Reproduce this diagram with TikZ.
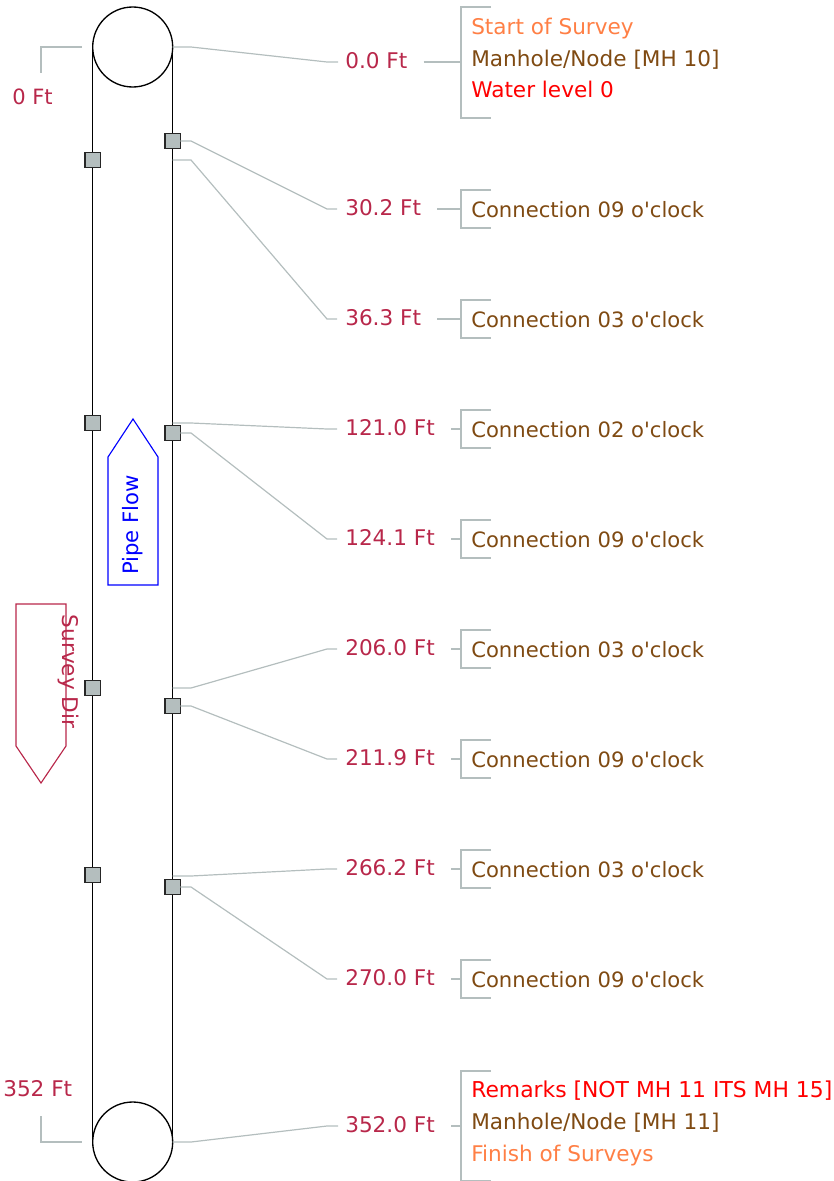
\documentclass[tikz,border=0pt]{standalone}
\usepackage{fontspec}
\setmainfont{DejaVu Sans}[Ligatures=TeXOff]
\definecolor{leader}{HTML}{B4BEBE}
\definecolor{dist}{HTML}{B8274A}
\definecolor{conn}{HTML}{7F4A12}
\definecolor{startc}{HTML}{FF7F45}
\newcommand{\row}[6]{% id, label, label baseline, bracket mid y, text, start point
  \node[distlabel] (d#1) at (337,#3) {#2};
  \coordinate (bm#1) at (461,#4);
  \coordinate (bt#1) at (491,#4-19);
  \coordinate (bb#1) at (491,#4+19);
  \node[conntext] (t#1) at (463,#4+8) {#5};
  \draw[leaderline] (#6) -- (#6 -| knee) -- ($(d#1.base west)+(-10,#4-#3)$) -- ($(d#1.base west)+(0,#4-#3)$);
  \draw[leaderline] ([xshift=6pt]d#1.east |- bm#1) -- (bm#1);
  \draw[leaderline] (bt#1) -| (bm#1) |- (bb#1);
}
\tikzset{
  x=0.75pt,y=-0.75pt,
  pipe/.style={draw=black,line width=1pt},
  manhole/.style={circle,draw=black,line width=1pt,minimum size=60pt,inner sep=0pt,outer sep=0pt},
  joint/.style={rectangle,draw=black!85,fill=leader,line width=1.05pt,minimum size=11.6pt,inner sep=0pt,outer sep=0pt},
  leaderline/.style={draw=leader,line width=0.9pt},
  distlabel/.style={anchor=base west,text=dist,font=\fontsize{16.2}{18}\selectfont,inner xsep=6pt,inner ysep=0pt},
  conntext/.style={anchor=base west,text=conn,font=\fontsize{15.85}{18}\selectfont,inner xsep=6pt,inner ysep=0pt},
  widetext/.style={conntext,font=\fontsize{16.2}{18}\selectfont},
  arrowbox/.style={line width=0.85pt},
}
\usetikzlibrary{calc}
\begin{document}
\begin{tikzpicture}
\useasboundingbox (0,0) rectangle (834,1181);
\clip (0,0) rectangle (834,1181);
\coordinate (knee) at (191,0);
% manholes and pipe
\node[manhole] (top) at (132.7,47) {};
\node[manhole] (bot) at (132.7,1142) {};
\draw[pipe] (top.west) -- (bot.west);
\draw[pipe] (top.east) -- (bot.east);
% joints
\node[joint] (l1) at (92.7,160) {};
\node[joint] (l2) at (92.7,423) {};
\node[joint] (l3) at (92.7,688) {};
\node[joint] (l4) at (92.7,875) {};
\node[joint] (r1) at (172.7,141) {};
\node[joint] (r2) at (172.7,433) {};
\node[joint] (r3) at (172.7,706) {};
\node[joint] (r4) at (172.7,887) {};
% points on the pipe
\coordinate (p0) at (172.7,47);
\coordinate (p2) at (172.7,160);
\coordinate (p3) at (172.7,423);
\coordinate (p5) at (172.7,688);
\coordinate (p7) at (172.7,876);
\coordinate (p9) at (172.7,1142);
% rows
\node[distlabel] (d0) at (337,68.5) {0.0 Ft};
\coordinate (bm0) at (461,62);
\coordinate (bt0) at (491,7);
\coordinate (bb0) at (491,118);
\draw[leaderline] (p0) -- (p0 -| knee) -- (327,62) -- (338,62);
\draw[leaderline] ([xshift=6pt]d0.east |- bm0) -- (bm0);
\draw[leaderline] (bt0) -| (bm0) |- (bb0);
\node[widetext,text=startc] (t0a) at (463,34.5) {Start of Survey};
\node[widetext] (t0b) at (463,66.5) {Manhole/Node [MH 10]};
\node[widetext,text=red] (t0c) at (463,97.5) {Water level 0};
\row{1}{30.2 Ft}{215}{209}{Connection 09 o'clock}{r1.east}
\row{2}{36.3 Ft}{325}{319}{Connection 03 o'clock}{p2}
\row{3}{121.0 Ft}{435}{429}{Connection 02 o'clock}{p3}
\row{4}{124.1 Ft}{545}{539}{Connection 09 o'clock}{r2.east}
\row{5}{206.0 Ft}{655}{649}{Connection 03 o'clock}{p5}
\row{6}{211.9 Ft}{765}{759}{Connection 09 o'clock}{r3.east}
\row{7}{266.2 Ft}{875}{869}{Connection 03 o'clock}{p7}
\row{8}{270.0 Ft}{985}{979}{Connection 09 o'clock}{r4.east}
\node[distlabel] (d9) at (337,1132) {352.0 Ft};
\coordinate (bm9) at (461,1126);
\coordinate (bt9) at (491,1071);
\coordinate (bb9) at (491,1181);
\draw[leaderline] (p9) -- (p9 -| knee) -- (327,1126) -- (338,1126);
\draw[leaderline] ([xshift=6pt]d9.east |- bm9) -- (bm9);
\draw[leaderline] (bt9) -| (bm9) |- (bb9);
\node[widetext,text=red,font=\fontsize{16.4}{18}\selectfont] (t9a) at (463,1097) {Remarks [NOT MH 11 ITS MH 15]};
\node[widetext] (t9b) at (463,1129) {Manhole/Node [MH 11]};
\node[widetext,text=startc] (t9c) at (463,1161) {Finish of Surveys};
% left depth labels
\node[distlabel,inner xsep=0pt,font=\fontsize{15.8}{18}\selectfont] (z0) at (12,104) {0 Ft};
\coordinate (z0c) at (41,47);
\coordinate (z0e) at (82,47);
\coordinate (z0s) at (41,73);
\draw[leaderline] (z0e) -- (z0c) -- (z0s);
\node[distlabel,inner xsep=0pt] (z1) at (3,1096) {352 Ft};
\coordinate (z1c) at (41,1142);
\coordinate (z1e) at (82,1142);
\coordinate (z1s) at (41,1116);
\draw[leaderline] (z1s) -- (z1c) -- (z1e);
% direction arrows
\draw[arrowbox,draw=blue] (108,585) -- (108,457) -- (133,419) -- (158,457) -- (158,585) -- cycle;
\node[rotate=90,text=blue,font=\fontsize{15.9}{18}\selectfont,inner sep=0pt] (flow) at (133,525) {Pipe Flow};
\draw[arrowbox,draw=dist] (16,604) -- (66,604) -- (66,746) -- (41,783) -- (16,746) -- cycle;
\node[rotate=-90,text=dist,font=\fontsize{16.2}{18}\selectfont,inner sep=0pt] (survey) at (68,671.5) {Survey Dir};
\end{tikzpicture}
\end{document}
